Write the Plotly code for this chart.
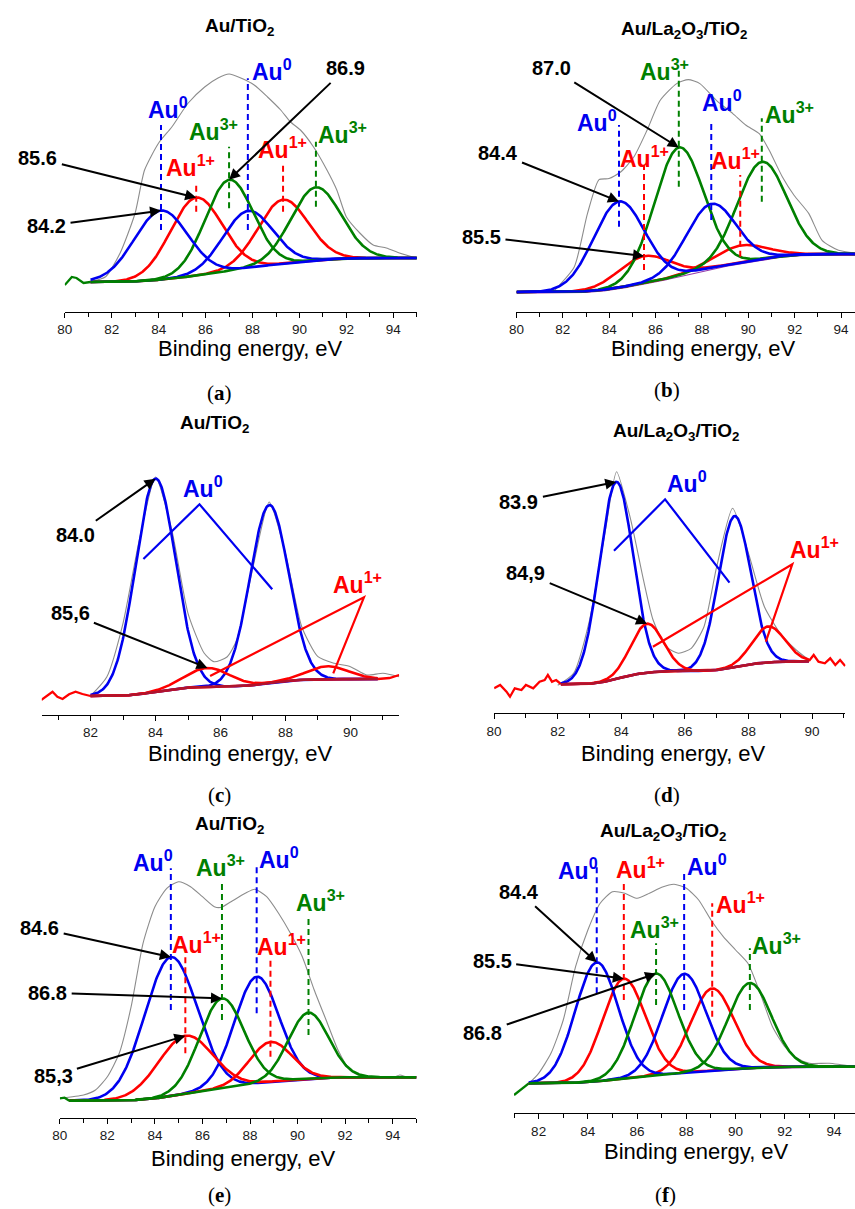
import numpy as np
import plotly.graph_objects as go

W, H = 855, 1209

# ---------------- data ----------------
# Components: centre (eV), height above background (a.u.), FWHM (eV), state
a_center = [84.1, 85.6, 87.0, 87.8, 89.3, 90.7]
a_height = [69, 78, 91, 57, 64, 73]
a_fwhm = [2.7, 2.6, 2.4, 2.5, 2.5, 2.5]
a_state = ["Au0", "Au1+", "Au3+", "Au0", "Au1+", "Au3+"]
a_bg = [30, 54]
a_fit = [81.1, 95.0]
a_raw_e = [81.1, 81.74, 82.36, 83.0, 83.4, 84.0, 84.56, 85.26, 85.96, 86.53, 87.0, 87.5, 88.07,
           88.64, 89.2, 89.62, 90.04, 90.6, 91.17, 91.59, 92.0, 92.57, 93.14, 93.7, 94.26, 94.97]
a_raw_i = [30.3, 35.3, 59, 99, 142, 169, 185, 209, 225, 234, 238, 234, 227,
           215, 202, 190, 182, 165, 142, 122, 95, 79, 67, 64, 59, 54]
a_edge_e = [80.0, 80.3, 80.5, 80.8, 81.1]
a_edge_i = [27, 35, 34, 29, 30]
a_marks = ["84.2", "85.6", "86.9"]

b_center = [84.42, 85.5, 87.0, 88.4, 89.65, 90.58]
b_height = [86, 27, 128, 64, 17, 97]
b_fwhm = [2.6, 2.6, 2.5, 2.5, 2.6, 2.5]
b_state = ["Au0", "Au1+", "Au3+", "Au0", "Au1+", "Au3+"]
b_bg = [20, 58]
b_fit = [80.0, 94.6]
b_raw_e = [81.64, 82.49, 83.06, 83.56, 83.99, 84.49, 85.06, 85.63, 86.2, 86.91, 87.41, 87.91,
           88.62, 89.33, 89.9, 90.47, 90.9, 91.47, 91.97, 92.61, 93.18, 93.89, 94.6]
b_raw_i = [21.7, 45, 98.4, 132.4, 133.4, 140, 155, 181.7, 211.7, 228.4, 232.4, 228.4,
           211.7, 198.4, 186.7, 178.4, 161.7, 135, 116.7, 98.4, 71.7, 61.7, 59]
b_marks = ["84.4", "85.5", "87.0"]

c_center = [84.0, 85.6, 87.5, 89.3]
c_height = [213, 19, 178, 13]
c_fwhm = [1.45, 1.6, 1.4, 1.5]
c_state = ["Au0", "Au1+", "Au0", "Au1+"]
c_bg = [19, 36]
c_fit = [82.0, 90.84]
c_raw_e = [82.0, 82.5, 83.0, 83.5, 84.0, 84.5, 85.0, 85.5, 85.8, 86.2, 86.5, 87.0, 87.5,
           88.0, 88.5, 89.0, 89.5, 90.0, 90.5, 91.0, 91.5]
c_raw_i = [19, 38, 91.7, 175, 238, 185, 101.7, 61.7, 53.3, 58, 75, 148, 213,
           161.7, 88.3, 58.3, 51.7, 48.3, 40, 41.7, 38.3]
c_edge_e = [80.48, 80.66, 80.83, 80.98, 81.14, 81.34, 81.54, 81.75, 82.0]
c_edge_i = [15, 19, 23.3, 18.3, 16, 20.7, 23.3, 21, 19]
c_edge2_e = [90.84, 91.2, 91.5]
c_edge2_i = [36, 37, 40]
c_marks = ["84.0", "85,6"]

d_center = [83.84, 84.81, 87.56, 88.63]
d_height = [197, 49, 151, 36]
d_fwhm = [1.25, 1.2, 1.2, 1.2]
d_state = ["Au0", "Au1+", "Au0", "Au1+"]
d_bg = [29, 52]
d_fit = [82.1, 89.9]
d_raw_e = [82.0, 82.5, 83.0, 83.5, 83.85, 84.3, 84.7, 85.0, 85.4, 85.8, 86.2, 86.6, 87.0,
           87.5, 88.0, 88.5, 89.0, 89.5, 89.9]
d_raw_i = [28, 40, 93, 183, 241.6, 193, 133, 93.3, 66.6, 60, 65, 86.6, 146.6,
           205, 160, 106.6, 80, 63.3, 53.3]
d_edge_e = [80.0, 80.19, 80.39, 80.5, 80.65, 80.86, 81.0, 81.23, 81.43, 81.59, 81.69, 81.82, 81.95, 82.1]
d_edge_i = [25, 28.3, 21.6, 16.6, 25, 23.3, 28.3, 25, 31.6, 33.3, 38.3, 31.6, 33.3, 29.3]
d_edge2_e = [89.9, 90.05, 90.2, 90.4, 90.57, 90.73, 90.88, 91.04]
d_edge2_i = [52.3, 58.3, 51.6, 50, 55, 48.3, 53.3, 47.3]
d_marks = ["83.9", "84,9"]

e_center = [84.67, 85.28, 86.82, 88.28, 88.86, 90.46]
e_height = [139, 58, 90, 107, 40, 66]
e_fwhm = [2.6, 2.7, 2.2, 2.2, 2.1, 2.0]
e_state = ["Au0", "Au1+", "Au3+", "Au0", "Au1+", "Au3+"]
e_bg = [17, 40.5]
e_fit = [80.4, 95.0]
e_raw_e = [80.0, 81.0, 81.5, 82.0, 82.5, 83.0, 83.5, 84.0, 84.5, 85.0, 85.5, 86.0, 86.5, 86.8,
           87.2, 87.8, 88.2, 88.7, 89.2, 89.7, 90.2, 90.7, 91.2, 91.7, 92.2, 92.7, 93.5, 94.0,
           94.3, 94.6, 95.0]
e_raw_i = [19.4, 22.7, 27.7, 41, 64.4, 111, 174.4, 211, 229.4, 236, 231, 221, 211, 210.4,
           216, 224.4, 228.4, 221, 204.4, 184.4, 161, 127.7, 97.7, 67.7, 47.7, 41, 39.4, 40,
           42.7, 40.5, 39.4]
e_edge_e = [80.0, 80.2, 80.4]
e_edge_i = [19.4, 20, 17]
e_marks = ["84.6", "85,3", "86.8"]

f_center = [84.36, 85.46, 86.77, 87.91, 89.05, 90.58]
f_height = [119, 100, 102, 99, 82, 85]
f_fwhm = [2.05, 2.05, 2.05, 2.05, 2.05, 2.05]
f_state = ["Au0", "Au1+", "Au3+", "Au0", "Au1+", "Au3+"]
f_bg = [30, 46.6]
f_fit = [81.6, 94.85]
f_raw_e = [81.0, 81.6, 82.0, 82.5, 83.0, 83.5, 84.0, 84.5, 85.0, 85.5, 86.0, 86.5, 87.0, 87.5,
           88.0, 88.5, 89.0, 89.5, 90.0, 90.5, 91.0, 91.5, 92.0, 92.5, 93.0, 93.8, 94.85]
f_raw_i = [18.3, 30, 40, 60, 93.3, 146.6, 183.3, 210, 221.6, 220, 215, 220, 226, 229,
           225, 213.3, 193.3, 176.6, 163.3, 150, 120, 86.6, 66.6, 55, 50, 50, 46.6]
f_edge_e = [81.0, 81.3, 81.6]
f_edge_i = [18.3, 24, 30]
f_marks = ["84.4", "85.5", "86.8"]

titles = ["Au/TiO<sub>2</sub>", "Au/La<sub>2</sub>O<sub>3</sub>/TiO<sub>2</sub>"] * 3
panel_letters = ["a", "b", "c", "d", "e", "f"]
x_title = "Binding energy, eV"

# ---------------- styles / layout positions (pixels) ----------------
COL = {"Au0": "rgb(0,0,240)", "Au1+": "rgb(255,0,0)", "Au3+": "rgb(0,128,0)"}
LBL = {"Au0": "Au<sup>0</sup>", "Au1+": "Au<sup>1+</sup>", "Au3+": "Au<sup>3+</sup>"}
SANS = "Liberation Sans, Arial, sans-serif"
SERIF = "Liberation Serif, Times New Roman, serif"

panels = [
    dict(c=a_center, h=a_height, w=a_fwhm, s=a_state, bg=a_bg, fit=a_fit, raw=(a_raw_e, a_raw_i),
         edges=[(a_edge_e, a_edge_i, COL["Au3+"])], marks=a_marks, bgline=None,
         xl=57.3, xr=412.7, rng=(80, 95), ay=312, top=40,
         title=(234, 27), letter=(213, 393), xt=(245, 349),
         lbl=[(161.7, 107.5), (184.7, 166), (207.5, 130), (266.7, 70), (277.5, 148.3), (337.5, 133.3)],
         dash=[(125, 230), (181.7, 211.7), (146.7, 208.3), (78.3, 230), (163.3, 211.7), (141.7, 206.7)],
         num=[((40, 226), 0), ((31.7, 158.3), 1), ((340, 68.3), 2)],
         order=[1, 4, 3, 2, 5, 0], vlines=None),
    dict(c=b_center, h=b_height, w=b_fwhm, s=b_state, bg=b_bg, fit=b_fit, raw=(b_raw_e, b_raw_i),
         edges=[], marks=b_marks, bgline="rgb(150,60,170)",
         xl=513.3, xr=855, rng=(80, 94.6), ay=312, top=40,
         title=(682, 30), letter=(665, 390), xt=(702, 349),
         lbl=[(595, 121), (642.2, 157.5), (662.5, 70), (720.8, 100.8), (734.7, 159), (789, 112.5)],
         dash=[(125, 226.7), (165, 270), (68.3, 186.7), (120, 220), (175, 256.7), (118.3, 201.7)],
         num=[((495.5, 152.7), 0), ((479.5, 236.7), 1), ((550, 68.3), 2)],
         order=[1, 4, 2, 5, 3, 0], vlines=None),
    dict(c=c_center, h=c_height, w=c_fwhm, s=c_state, bg=c_bg, fit=c_fit, raw=(c_raw_e, c_raw_i),
         edges=[(c_edge_e, c_edge_i, COL["Au1+"]), (c_edge2_e, c_edge2_i, COL["Au1+"])],
         marks=c_marks, bgline="rgb(175,20,45)",
         xl=34.1, xr=394.9, rng=(80.5, 91.5), ay=715, top=440,
         title=(208, 424), letter=(213, 795), xt=(235, 753),
         lbl=None, dash=None,
         num=[((69, 535), 0), ((64, 613.3), 1)],
         order=[0, 2, 1, 3],
         vlines=[("Au0", (196.7, 486.7), [(136.7, 559), (193.3, 504.3), (266.7, 589.3)]),
                 ("Au1+", (353.3, 583.3), [(204, 676), (359.3, 597.3), (328.3, 673.3)])]),
    dict(c=d_center, h=d_height, w=d_fwhm, s=d_state, bg=d_bg, fit=d_fit, raw=(d_raw_e, d_raw_i),
         edges=[(d_edge_e, d_edge_i, COL["Au1+"]), (d_edge2_e, d_edge2_i, COL["Au1+"])],
         marks=d_marks, bgline="rgb(175,20,45)",
         xl=490.7, xr=845.4, rng=(80, 91.05), ay=713.3, top=440,
         title=(674, 432), letter=(665, 795), xt=(672, 753),
         lbl=None, dash=None,
         num=[((516.7, 501.7), 0), ((524, 573.3), 1)],
         order=[0, 2, 1, 3],
         vlines=[("Au0", (685.8, 482.5), [(611.7, 550.7), (663.3, 499.3), (728.3, 582.7)]),
                 ("Au1+", (814, 547.5), [(651, 646.7), (791.7, 564.3), (765, 641.7)])]),
    dict(c=e_center, h=e_height, w=e_fwhm, s=e_state, bg=e_bg, fit=e_fit, raw=(e_raw_e, e_raw_i),
         edges=[(e_edge_e, e_edge_i, COL["Au3+"])], marks=e_marks, bgline=None,
         xl=52.3, xr=412.3, rng=(80, 95), ay=1117.7, top=840,
         title=(224, 825), letter=(213, 1195), xt=(238, 1158),
         lbl=[(146.7, 860.8), (190, 942.5), (215, 866.2), (273.3, 858.3), (275.8, 945), (315.8, 900.8)],
         dash=[(868.3, 1010), (955, 1053.3), (881.7, 1020), (865, 1013.3), (958.3, 1056.7), (918.3, 1035)],
         num=[((33.3, 928.3), 0), ((46.7, 1076), 1), ((41.7, 992.7), 2)],
         order=[0, 3, 1, 4, 2, 5], vlines=None),
    dict(c=f_center, h=f_height, w=f_fwhm, s=f_state, bg=f_bg, fit=f_fit, raw=(f_raw_e, f_raw_i),
         edges=[(f_edge_e, f_edge_i, COL["Au3+"])], marks=f_marks, bgline=None,
         xl=510.8, xr=855, rng=(81, 94.85), ay=1113.3, top=840,
         title=(661, 832), letter=(664, 1195), xt=(695, 1151),
         lbl=[(575.8, 869.2), (638.3, 868.3), (652.5, 927.5), (705.8, 865), (739.7, 902.5), (775.8, 944.2)],
         dash=[(865, 993.3), (883.3, 1000), (943.3, 1005), (871.7, 1010), (903.3, 1016.7), (948.3, 1010)],
         num=[((516.7, 891.7), 0), ((490, 961), 1), ((481, 1032.7), 2)],
         order=[1, 4, 0, 3, 2, 5], vlines=None),
]


def px(x):
    return x / W


def py(y):
    return 1 - y / H


def gauss(x, c, h, w):
    return h * np.exp(-4 * np.log(2) * (x - c) ** 2 / w ** 2)


fig = go.Figure()
annotations = []
shapes = []

for n, P in enumerate(panels, start=1):
    xa = "x" if n == 1 else f"x{n}"
    ya = "y" if n == 1 else f"y{n}"
    xmin, xmax = P["rng"]
    span_px = P["xr"] - P["xl"]

    def e2px(e):
        return P["xl"] + (e - xmin) / (xmax - xmin) * span_px

    # raw spectrum (grey)
    fig.add_trace(go.Scatter(x=P["raw"][0], y=P["raw"][1], mode="lines", xaxis=xa, yaxis=ya,
                             line=dict(color="rgb(140,140,140)", width=1.1, shape="spline", smoothing=0.6),
                             hoverinfo="skip", showlegend=False))
    # fitted components on a Shirley background
    xg = np.linspace(P["fit"][0], P["fit"][1], 500)
    comps = [gauss(xg, c, h, w) for c, h, w in zip(P["c"], P["h"], P["w"])]
    tot = np.sum(comps, axis=0)
    cum = np.concatenate([[0], np.cumsum((tot[1:] + tot[:-1]) / 2 * np.diff(xg))])
    lo, hi = P["bg"]
    bg = lo + (hi - lo) * cum / cum[-1]
    for ee, ii, col in P["edges"]:
        fig.add_trace(go.Scatter(x=ee, y=ii, mode="lines", xaxis=xa, yaxis=ya,
                                 line=dict(color=col, width=2.3), hoverinfo="skip", showlegend=False))
    thin_bg = n == 2
    if P["bgline"] and thin_bg:
        fig.add_trace(go.Scatter(x=xg, y=bg - 1.2, mode="lines", xaxis=xa, yaxis=ya,
                                 line=dict(color=P["bgline"], width=1.2),
                                 hoverinfo="skip", showlegend=False))
    for k in P["order"]:
        fig.add_trace(go.Scatter(x=xg, y=bg + comps[k], mode="lines", xaxis=xa, yaxis=ya,
                                 line=dict(color=COL[P["s"][k]], width=2.6),
                                 hoverinfo="skip", showlegend=False))
    if P["bgline"] and not thin_bg:
        fig.add_trace(go.Scatter(x=xg, y=bg, mode="lines", xaxis=xa, yaxis=ya,
                                 line=dict(color=P["bgline"], width=2.4),
                                 hoverinfo="skip", showlegend=False))

    # axes
    fig.update_layout(**{
        ("xaxis" if n == 1 else f"xaxis{n}"): dict(
            domain=[px(P["xl"]), px(P["xr"])], range=[xmin, xmax], anchor=ya,
            showline=True, linecolor="black", linewidth=1.3, mirror=False,
            ticks="outside", ticklen=5, tickwidth=1.2, tickcolor="black",
            tick0=80, dtick=2, showgrid=False, zeroline=False,
            minor=dict(ticks="outside", ticklen=4, tickwidth=1.1, dtick=1, tick0=80, tickcolor="black"),
            tickfont=dict(family=SANS, size=13.5, color="#1a1a1a")),
        ("yaxis" if n == 1 else f"yaxis{n}"): dict(
            domain=[py(P["ay"]), py(P["top"])], range=[0, P["ay"] - P["top"]], anchor=xa,
            visible=False, showticklabels=False, showgrid=False, zeroline=False),
    })

    # title, axis title, panel letter
    annotations.append(dict(x=px(P["title"][0]), y=py(P["title"][1]), xref="paper", yref="paper",
                            text=f"<b>{titles[n - 1]}</b>", showarrow=False, xanchor="center", yanchor="middle",
                            font=dict(family=SANS, size=19, color="black")))
    annotations.append(dict(x=px(P["xt"][0]), y=py(P["xt"][1]), xref="paper", yref="paper",
                            text=x_title, showarrow=False, xanchor="center", yanchor="middle",
                            font=dict(family=SANS, size=22, color="black")))
    annotations.append(dict(x=px(P["letter"][0]), y=py(P["letter"][1]), xref="paper", yref="paper",
                            text=f"(<b>{panel_letters[n - 1]}</b>)", showarrow=False,
                            xanchor="center", yanchor="middle",
                            font=dict(family=SERIF, size=21, color="black")))

    # state labels with dashed markers
    if P["lbl"]:
        for k, ((lx, ly), (d0, d1)) in enumerate(zip(P["lbl"], P["dash"])):
            col = COL[P["s"][k]]
            annotations.append(dict(x=px(lx), y=py(ly), xref="paper", yref="paper",
                                    text=f"<b>{LBL[P['s'][k]]}</b>", showarrow=False,
                                    xanchor="center", yanchor="middle",
                                    font=dict(family=SANS, size=23, color=col)))
            shapes.append(dict(type="line", xref=xa, yref=ya, x0=P["c"][k], x1=P["c"][k],
                               y0=P["ay"] - d1, y1=P["ay"] - d0,
                               line=dict(color=col, width=2, dash="6px,4px")))
    if P["vlines"]:
        for st, (lx, ly), pts in P["vlines"]:
            col = COL[st]
            annotations.append(dict(x=px(lx), y=py(ly), xref="paper", yref="paper",
                                    text=f"<b>{LBL[st]}</b>", showarrow=False,
                                    xanchor="center", yanchor="middle",
                                    font=dict(family=SANS, size=23, color=col)))
            path = "M " + " L ".join(f"{px(a):.5f},{py(b):.5f}" for a, b in pts)
            shapes.append(dict(type="path", xref="paper", yref="paper", path=path,
                               line=dict(color=col, width=2.2)))

    # value labels with arrows pointing at the component maxima
    for j, ((tx, ty), k) in enumerate(P["num"]):
        c = P["c"][k]
        ytop = float(np.interp(c, xg, bg + comps[k]))
        hx = e2px(c)
        hy = P["ay"] - ytop
        annotations.append(dict(x=c, y=ytop, xref=xa, yref=ya,
                                text=f"<b>{P['marks'][j]}</b>", showarrow=True,
                                ax=tx - hx, ay=ty - hy, axref="pixel", ayref="pixel",
                                arrowhead=2, arrowsize=1.1, arrowwidth=2, arrowcolor="black",
                                standoff=0, startstandoff=3,
                                font=dict(family=SANS, size=20, color="black")))

fig.update_layout(width=W, height=H, autosize=False, margin=dict(l=0, r=0, t=0, b=0),
                  paper_bgcolor="white", plot_bgcolor="white",
                  annotations=annotations, shapes=shapes, showlegend=False)

fig.write_html("out.html", config={"displayModeBar": False},
               post_script="document.body.style.margin='0px';document.body.style.overflow='hidden';")
